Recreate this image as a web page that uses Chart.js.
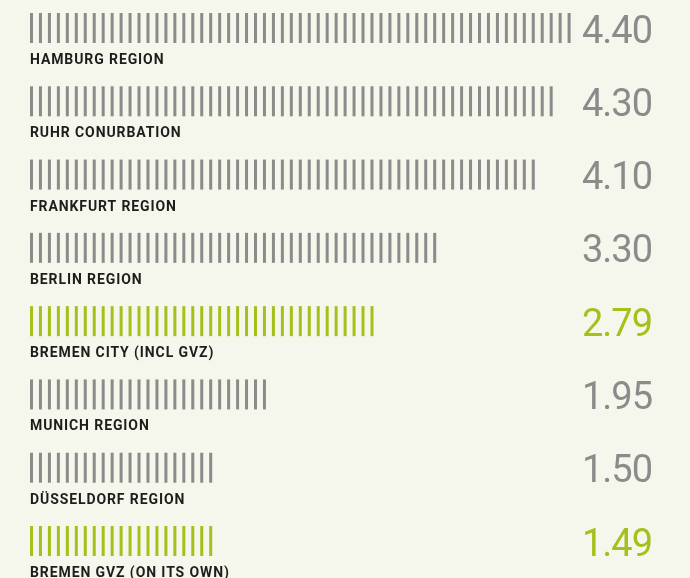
<!DOCTYPE html>
<html>
<head>
<meta charset="utf-8">
<script src="https://cdn.jsdelivr.net/npm/chart.js@4/dist/chart.umd.min.js"></script>
<style>
  html, body { margin: 0; padding: 0; background: #f5f6ec; }
  #wrap { width: 690px; height: 578px; position: relative; }
</style>
</head>
<body>
<div id="wrap"><canvas id="chart"></canvas></div>
<script>
  // values
  const regions = ['HAMBURG REGION', 'RUHR CONURBATION', 'FRANKFURT REGION', 'BERLIN REGION',
    'BREMEN CITY (INCL GVZ)', 'MUNICH REGION', 'DÜSSELDORF REGION', 'BREMEN GVZ (ON ITS OWN)'];
  const values = [4.40, 4.30, 4.10, 3.30, 2.79, 1.95, 1.50, 1.49];
  const highlight = [false, false, false, false, true, false, false, true];

  const GRAY = '#8b8b8b';
  const GREEN = '#a3c11a';

  // draw each bar as a row of thin vertical ticks
  const tallyBars = {
    id: 'tallyBars',
    afterDatasetsDraw(chart) {
      const ctx = chart.ctx;
      const meta = chart.getDatasetMeta(0);
      const step = 8.96, w = 3;
      meta.data.forEach((bar, i) => {
        const { x, y, base, height } = bar.getProps(['x', 'y', 'base', 'height'], true);
        const top = y - height / 2;
        ctx.save();
        ctx.fillStyle = highlight[i] ? GREEN : GRAY;
        for (let k = 0; base + k * step <= x - 4; k++) {
          ctx.fillRect(base + k * step, top, w, height);
        }
        ctx.restore();
      });
    },
    afterDraw(chart) {
      const ctx = chart.ctx;
      const meta = chart.getDatasetMeta(0);
      meta.data.forEach((bar, i) => {
        const { y, base, height } = bar.getProps(['y', 'base', 'height'], true);
        const bottom = y + height / 2;
        ctx.save();
        // category label under the bar
        ctx.font = 'bold 14px Roboto';
        if ('letterSpacing' in ctx) ctx.letterSpacing = '0.9px';
        ctx.fillStyle = '#1d1d1b';
        ctx.textAlign = 'left';
        ctx.textBaseline = 'alphabetic';
        ctx.fillText(regions[i], base, bottom + 21);
        // value on the right
        ctx.font = '38px Roboto';
        if ('letterSpacing' in ctx) ctx.letterSpacing = '-1px';
        ctx.fillStyle = highlight[i] ? GREEN : GRAY;
        ctx.textAlign = 'right';
        ctx.fillText(values[i].toFixed(2), 652, bottom - 0.5);
        ctx.restore();
      });
    }
  };

  new Chart(document.getElementById('chart'), {
    type: 'bar',
    data: {
      labels: regions,
      datasets: [{
        data: values,
        backgroundColor: 'rgba(0,0,0,0)',
        barThickness: 30
      }]
    },
    options: {
      indexAxis: 'y',
      responsive: true,
      maintainAspectRatio: false,
      animation: false,
      layout: { padding: { left: 30, right: 42.5, top: 28, bottom: 37 } },
      scales: {
        x: { display: false, min: 0, max: 5 },
        y: { display: false, offset: false }
      },
      plugins: {
        legend: { display: false },
        tooltip: { enabled: false }
      }
    },
    plugins: [tallyBars]
  });
</script>
</body>
</html>
